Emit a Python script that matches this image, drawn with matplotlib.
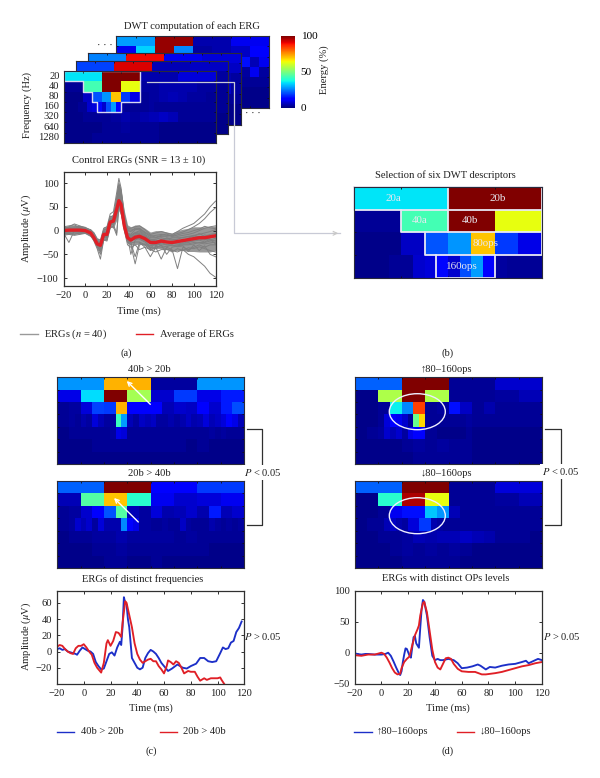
import numpy as np
import matplotlib
matplotlib.use('Agg')
import matplotlib.pyplot as plt
from matplotlib.cm import ScalarMappable
from matplotlib.colors import Normalize
from matplotlib.patches import Ellipse

plt.rcParams['font.family'] = ['Liberation Serif', 'DejaVu Serif']
plt.rcParams['mathtext.fontset'] = 'stix'
plt.rcParams['font.size'] = 7.6

W, H = 600, 778
FS = 7.6
DARK = '#303030'

# ------------------------------------------------------------
# DWT energy maps, one list per frequency row (20 Hz first)
# ------------------------------------------------------------
freq_labels = ['20', '40', '80', '160', '320', '640', '1280']

main_rows = [
    [35, 100, 4, 8],
    [2, 43, 100, 63, 3, 4, 4, 3],
    [1, 1, 6, 21, 27, 70, 18, 9, 2, 3, 4, 5, 4, 3, 3, 2],
    [1, 1, 1, 2, 2, 7, 8, 13, 7, 20, 28, 12, 3, 2, 2, 2, 2, 2, 3, 2, 2, 2, 2, 2, 2, 2, 2, 2, 2, 2, 2, 2],
    [1, 1, 2, 2, 2, 3, 4, 3, 4, 5, 6, 5, 2, 2, 2, 2],
    [1, 1, 1, 1, 2, 2, 3, 2, 2, 2, 1, 1, 1, 1, 1, 1],
    [1, 1, 1, 2, 2, 2, 2, 2, 2, 2, 1, 1, 1, 1, 1, 1],
]
back1_rows = [
    [28, 98, 4, 10],
    [10, 33, 98, 26, 3, 4, 6, 11],
    [1, 2, 4, 7, 8, 10, 6, 3, 3, 4, 4, 3, 6, 14, 5, 10],
    [1, 2, 2, 4, 6, 7, 4, 3, 2, 2, 2, 2, 2, 3, 10, 3],
    [1, 1, 2, 2, 3, 3, 2, 2, 2, 2, 2, 2, 2, 2, 2, 2],
    [1, 1, 1, 1, 2, 2, 1, 1, 1, 1, 1, 1, 1, 1, 1, 1],
    [1, 1, 1, 1, 1, 1, 1, 1, 1, 1, 1, 1, 1, 1, 1, 1],
]
back2_rows = [
    [25, 90, 10, 8],
    [2, 20, 60, 12, 3, 3, 7, 6],
    [1, 2, 4, 7, 6, 6, 3, 2, 3, 3, 2, 3, 5, 3, 4, 3],
    [1, 2, 2, 3, 3, 3, 2, 2, 2, 3, 3, 2, 3, 2, 7, 3],
    [1, 1, 2, 2, 2, 2, 2, 2, 2, 2, 2, 2, 2, 2, 2, 2],
    [1, 1, 1, 1, 1, 1, 1, 1, 1, 1, 1, 1, 1, 1, 1, 1],
    [1, 1, 1, 1, 1, 1, 1, 1, 1, 1, 1, 1, 1, 1, 1, 1],
]
back3_rows = [
    [19, 92, 5, 6],
    [2, 25, 50, 10, 3, 3, 5, 3],
    [1, 2, 4, 6, 4, 5, 2, 2, 2, 3, 3, 4, 3, 2, 3, 2],
    [1, 2, 2, 3, 3, 3, 2, 2, 2, 2, 2, 2, 2, 2, 2, 2],
    [1, 1, 2, 2, 2, 2, 2, 2, 2, 2, 2, 2, 2, 2, 2, 2],
    [1, 1, 1, 1, 1, 1, 1, 1, 1, 1, 1, 1, 1, 1, 1, 1],
    [1, 1, 1, 1, 1, 1, 1, 1, 1, 1, 1, 1, 1, 1, 1, 1],
]

c_top_rows = [
    [27, 72, 3, 27],
    [9, 34, 100, 55, 7, 18, 9, 15],
    [2, 3, 8, 19, 18, 72, 11, 11, 12, 5, 7, 6, 12, 7, 15, 20],
    [2, 2, 3, 2, 4, 3, 8, 5, 3, 3, 42, 28, 5, 3, 6, 5, 6, 3, 3, 4, 3, 4, 6, 4, 5, 8, 5, 6, 8, 11, 9, 5],
    [1, 1, 2, 2, 2, 2, 2, 2, 2, 3, 9, 8, 2, 2, 2, 2, 2, 2, 2, 2, 2, 2, 2, 2, 2, 2, 3, 2, 3, 2, 2, 2],
    [1, 1, 1, 2, 2, 2, 2, 2, 2, 2, 2, 1, 2, 1, 1, 1],
    [1, 1, 1, 1, 1, 1, 1, 1, 1, 1, 1, 1, 1, 1, 1, 1],
]
c_bottom_rows = [
    [22, 100, 11, 18],
    [5, 45, 70, 40, 10, 7, 8, 10],
    [2, 3, 7, 12, 21, 45, 5, 3, 8, 4, 5, 7, 4, 15, 5, 7],
    [2, 2, 3, 7, 5, 7, 3, 8, 4, 4, 4, 26, 12, 9, 3, 3, 2, 2, 3, 2, 2, 6, 3, 2, 2, 2, 4, 3, 2, 3, 2, 3],
    [1, 2, 2, 3, 3, 4, 3, 3, 3, 3, 2, 3, 2, 2, 2, 2],
    [1, 1, 1, 2, 2, 3, 2, 2, 2, 2, 2, 2, 2, 1, 1, 1],
    [1, 1, 1, 1, 2, 2, 1, 1, 2, 1, 1, 1, 1, 1, 1, 1],
]
d_top_rows = [
    [22, 100, 2, 7],
    [1, 56, 100, 56, 2, 2, 3, 5],
    [1, 1, 2, 36, 26, 84, 2, 3, 14, 6, 2, 4, 2, 2, 2, 2],
    [1, 1, 1, 1, 2, 8, 12, 10, 7, 2, 48, 68, 2, 2, 2, 2, 2, 2, 2, 3, 2, 2, 2, 2, 2, 2, 2, 2, 2, 2, 2, 2],
    [1, 1, 2, 2, 3, 7, 5, 7, 3, 9, 11, 11, 2, 2, 1, 1, 1, 1, 1, 2, 1, 1, 1, 1, 1, 1, 1, 1, 1, 1, 1, 1],
    [1, 1, 1, 1, 2, 3, 2, 3, 2, 2, 1, 1, 1, 1, 1, 1],
    [1, 1, 1, 1, 1, 2, 2, 2, 2, 2, 1, 1, 1, 1, 1, 1],
]
d_bottom_rows = [
    [22, 100, 2, 8],
    [1, 40, 96, 63, 2, 2, 3, 5],
    [1, 1, 2, 10, 14, 14, 32, 27, 5, 2, 2, 2, 2, 2, 2, 2],
    [1, 1, 2, 2, 2, 5, 6, 4, 3, 8, 8, 18, 18, 4, 3, 2, 2, 2, 2, 2, 2, 2, 2, 2, 2, 2, 2, 2, 2, 2, 2, 2],
    [1, 1, 2, 2, 3, 5, 4, 5, 5, 6, 5, 4, 2, 2, 2, 1],
    [1, 1, 1, 2, 3, 2, 3, 2, 3, 2, 1, 1, 1, 1, 1, 1],
    [1, 1, 1, 1, 2, 2, 2, 2, 2, 1, 1, 1, 1, 1, 1, 1],
]

# ------------------------------------------------------------
# ERG traces, microvolts
# ------------------------------------------------------------
t_erg = [-20, -15, -10, -5, 0, 5, 8, 11, 14, 17, 20, 23, 26, 29, 31, 33, 36, 39, 42, 46,
         50, 55, 60, 65, 70, 75, 80, 85, 90, 95, 100, 105, 110, 115, 120]
erg_mean = [0, 1, 1, 1, 0, -5, -15, -28, -31, -8, -8, 18, 20, 45, 63, 55, 10, -15, -20, -14,
            -12, -17, -25, -25, -22, -24, -25, -23, -21, -19, -17, -15, -15, -13, -11]
# dense core of the 40 ERGs
erg_upper = [8, 10, 12, 10, 6, 3, -3, -15, -18, 8, 10, 30, 35, 85, 100, 85, 42, 12, 8, 12,
             12, 5, -3, 0, 0, -3, -5, 0, 3, 5, 8, 8, 8, 8, 10]
erg_lower = [-8, -8, -8, -6, -5, -12, -22, -36, -45, -20, -20, 8, 5, 22, 42, 30, 0, -25, -30, -30,
             -28, -32, -40, -38, -38, -40, -42, -42, -42, -44, -44, -45, -45, -45, -42]
erg_traces = [
    [8, 10, 12, 6, 5, 2, -5, -18, -20, 5, 8, 35, 40, 80, 110, 90, 35, 5, 5, 8, 10, 2, -8, -5, -2, -5, -8, -2, 5, 10, 15, 25, 35, 50, 62],
    [5, 8, 14, 10, 6, 0, -8, -20, -25, 0, 5, 28, 32, 70, 100, 85, 30, 0, -2, 5, 5, -5, -12, -10, -8, -10, -10, -6, -3, 2, 8, 15, 25, 38, 48],
    [3, 6, 5, 8, 4, -2, -10, -22, -28, -2, 0, 25, 28, 60, 95, 75, 22, -5, -8, 2, 3, -8, -15, -15, -12, -12, -10, -12, -10, -8, -5, 0, 5, 8, 10],
    [-5, -25, 0, 3, 2, -3, -12, -25, -35, -5, -2, 20, 25, 55, 85, 70, 18, -8, -12, -5, 0, -10, -20, -18, -15, -18, -15, -15, -15, -12, -10, -8, -5, -2, 2],
    [-8, -3, -2, -4, -3, -8, -18, -32, -45, -12, -15, 12, 15, 40, 75, 60, 12, -12, -50, -20, -15, -20, -28, -30, -25, -30, -28, -25, -22, -25, -20, -18, -20, -15, -12],
    [-6, -5, -8, -5, -5, -10, -22, -38, -60, -20, -22, 5, 10, 30, 60, 45, 2, -25, -30, -70, -30, -28, -35, -38, -30, -50, -35, -32, -30, -30, -28, -25, -25, -22, -20],
    [-10, -8, -10, -8, -6, -12, -20, -35, -50, -18, -18, 8, 8, -10, 55, 40, 0, -30, -35, -30, -40, -35, -55, -35, -60, -35, -40, -80, -35, -40, -35, -30, -35, -30, -30],
    [0, 2, 2, -1, -2, -6, -15, -28, -40, -15, -10, 15, 12, -5, 50, 38, 5, -20, -25, -55, -25, -35, -40, -45, -40, -40, -42, -45, -40, -50, -55, -65, -75, -90, -98],
    [4, 3, 6, 4, 3, -1, -9, -24, -30, -4, -3, 22, 24, 52, 78, 66, 16, -6, -10, -4, -3, -12, -18, -22, -20, -17, -20, -18, -14, -13, -12, -6, -12, -8, -6],
    [-3, -2, -3, -2, -1, -7, -17, -30, -34, -10, -9, 16, 18, 42, 68, 58, 8, -18, -22, -16, -18, -24, -32, -28, -28, -30, -32, -30, -28, -28, -25, -26, -28, -26, -24],
    [6, 7, 8, 9, 7, 1, -7, -22, -26, 2, 3, 30, 30, 65, 92, 80, 26, 2, 1, 3, 4, -3, -10, -14, -10, -7, -13, -9, -6, -4, 0, 3, 9, 6, 4],
    [-2, -4, 1, 0, 1, -4, -13, -27, -37, -7, -6, 18, 22, 48, 72, 62, 14, -10, -15, -9, -8, -15, -23, -26, -18, -25, -22, -25, -18, -22, -14, -12, -18, -20, -16],
    [-7, -6, -5, -7, -4, -9, -19, -33, -42, -14, -13, 10, 14, 36, 58, 50, 6, -22, -26, -24, -24, -30, -42, -33, -35, -38, -45, -38, -42, -36, -38, -34, -38, -42, -45],
    [2, 4, 3, 5, 2, -3, -11, -26, -33, -6, -5, 20, 26, 50, 82, 68, 20, -7, -11, -6, -6, -13, -20, -20, -24, -15, -18, -20, -24, -16, -10, -14, -9, -12, -10],
    [-4, -1, -1, -3, -2, -6, -16, -29, -36, -11, -11, 14, 16, 38, 66, 52, 9, -16, -20, -18, -16, -22, -38, -24, -32, -34, -30, -34, -32, -44, -30, -42, -32, -50, -55],
    [1, 0, 4, 2, 0, -4, -14, -28, -44, -9, -7, 17, 20, 44, 88, 72, 15, -11, -14, -10, -9, -18, -24, -32, -26, -22, -27, -28, -26, -24, -22, -20, -24, -18, -28],
]

t_c_blue = [-20, -18, -16, -14, -12, -10, -8, -6, -5, -3, -1, 1, 3, 5, 7, 9, 11, 13, 15, 17, 19, 21, 23, 25, 27, 28, 29, 30, 31, 32, 33, 34, 36, 38, 40, 42, 44, 46, 48, 50, 52, 54, 56, 58, 60, 63, 66, 70, 74, 77, 80, 84, 87, 90, 93, 96, 99, 102, 104, 106, 108, 110, 112, 114, 116, 118]
c_blue = [3, 4, 2, 3, 0, -1, -2, -3, -4, 1, 5, 3, 1, 0, -3, -13, -18, -22, -21, -12, -3, -1, -5, 5, 12, 8, 30, 67, 60, 58, 40, 30, -8, -14, -20, -22, -20, -8, -2, 2, 0, -3, -8, -14, -18, -24, -21, -16, -20, -21, -18, -15, -8, -8, -12, -13, -12, -2, 5, 3, 4, 11, 13, 24, 29, 37]
t_c_red = [-20, -18, -16, -14, -12, -10, -8, -6, -4, -2, 0, 2, 4, 6, 8, 10, 12, 13, 15, 17, 18, 20, 22, 24, 26, 28, 29, 31, 32, 34, 36, 38, 40, 42, 44, 46, 48, 50, 52, 54, 56, 58, 60, 62, 63, 65, 67, 69, 71, 73, 75, 78, 80, 83, 85, 87, 90, 92, 95, 98, 100, 102, 103, 105]
c_red = [6, 8, 7, 3, 0, -2, -3, 4, 7, 7, 9, 5, 0, -4, -14, -20, -24, -26, -14, 10, 14, 7, 13, 24, 23, 18, 35, 62, 60, 45, 30, 10, -3, -10, -14, -12, -10, -9, -12, -12, -18, -22, -27, -18, -11, -13, -16, -12, -14, -20, -27, -24, -25, -25, -31, -36, -33, -35, -33, -33, -33, -32, -35, -40]
t_d_blue = [-20, -18, -15, -12, -10, -5, 0, 3, 5, 7, 9, 11, 13, 14, 15, 16, 17, 18, 19, 21, 22, 24, 25, 26, 28, 29, 30, 31, 32, 34, 36, 38, 40, 42, 44, 46, 50, 54, 57, 60, 64, 68, 72, 74, 78, 81, 85, 90, 95, 100, 105, 108, 110, 113, 117, 120]
d_blue = [-1, -2, -3, -2, -2, -3, -3, -2, 0, -5, -14, -24, -33, -36, -30, -15, -3, 7, 6, -5, -8, 25, 27, 15, 8, 40, 70, 85, 82, 60, 25, -5, -12, -10, -12, -12, -10, -12, -17, -25, -24, -22, -19, -21, -27, -23, -24, -21, -19, -18, -15, -13, -17, -14, -10, -12]
t_d_red = [-20, -15, -10, -5, 0, 2, 4, 6, 8, 10, 12, 14, 15, 17, 19, 21, 23, 25, 27, 28, 29, 31, 32, 34, 36, 38, 40, 42, 44, 46, 48, 50, 52, 54, 57, 60, 65, 70, 75, 78, 85, 90, 95, 100, 105, 110, 115, 120]
d_red = [-4, -5, -3, -3, 0, -2, -8, -16, -25, -32, -35, -34, -25, -15, -10, -6, 12, 28, 38, 44, 60, 80, 82, 65, 35, 5, -15, -24, -27, -18, -9, -8, -10, -18, -26, -30, -31, -31, -35, -35, -33, -31, -28, -25, -22, -20, -17, -15]

time_ticks = [-20, 0, 20, 40, 60, 80, 100, 120]


def px_axes(fig, x0, y0, x1, y1):
    """Axes from pixel box, y measured from the top of the image."""
    return fig.add_axes([x0 / W, 1 - y1 / H, (x1 - x0) / W, (y1 - y0) / H])


def draw_dwt(ax, rows):
    for i, row in enumerate(rows):
        edges = np.linspace(0, 1, len(row) + 1)
        ax.pcolormesh(edges, [i, i + 1], [row], cmap='jet', vmin=0, vmax=100, linewidth=0, rasterized=True)
    ax.set_xlim(0, 1)
    ax.set_ylim(len(rows), 0)
    ax.set_xticks(np.arange(1, 8) / 8)
    ax.set_yticks(np.arange(1, len(rows)))
    ax.tick_params(which='both', direction='in', length=1.6, width=0.6, top=True, right=True,
                   labelbottom=False, labelleft=False, color='#101010')
    for s in ax.spines.values():
        s.set_color('#2a2a3a')
        s.set_linewidth(0.8)


def style_line_axes(ax, ylim, yticks):
    ax.set_xlim(-20, 120)
    ax.set_ylim(*ylim)
    ax.set_xticks(time_ticks)
    ax.set_yticks(yticks)
    ax.tick_params(direction='in', length=2, width=0.7, top=True, right=True, labelsize=FS, pad=3.5, color=DARK,
                   labelcolor='#202020')
    for s in ax.spines.values():
        s.set_color(DARK)
        s.set_linewidth(0.9)


fig = plt.figure(figsize=(W / 100, H / 100), dpi=100)

# (a) stacked DWT maps, back to front
ax = px_axes(fig, 116.5, 36, 269, 108)
draw_dwt(ax, back1_rows)
ax = px_axes(fig, 88, 52.5, 240.5, 124.5)
draw_dwt(ax, back2_rows)
ax = px_axes(fig, 75.5, 61, 228, 134)
draw_dwt(ax, back3_rows)
ax_main = px_axes(fig, 63.5, 71, 215.5, 143)
draw_dwt(ax_main, main_rows)

ax_main.plot([0, .5, .5, .375, .375, .21875, .21875, .1875, .1875, .125, .125, 0, 0],
             [0, 0, 3, 3, 4, 4, 3, 3, 2, 2, 1, 1, 0], color='#d8d8f0', lw=1)

cax = px_axes(fig, 281, 36, 295, 107.5)
cb = fig.colorbar(ScalarMappable(Normalize(0, 100), 'jet'), cax=cax, ticks=[0, 50, 100])
cb.outline.set_visible(False)
cax.tick_params(length=0, pad=4, labelsize=FS + 0.5)

# (a) control ERGs
ax_a = px_axes(fig, 63.5, 171.7, 215.5, 285.7)
ax_a.fill_between(t_erg, erg_lower, erg_upper, color='#7f7f7f', alpha=0.8, lw=0)
for tr in erg_traces:
    ax_a.plot(t_erg, tr, color='#808080', lw=0.7)
ax_a.plot(t_erg, erg_mean, color='#e01f26', lw=2.4)
style_line_axes(ax_a, (-116, 124), [-100, -50, 0, 50, 100])

# (b) selected descriptors, left half of the top four rows
ax_b = px_axes(fig, 354.3, 186.7, 541.7, 278)
draw_dwt(ax_b, [r[:len(r) // 2] for r in main_rows[:4]])
ax_b.set_xticks([.25, .5, .75])
ax_b.set_yticks([1, 2, 3])
for xs, ys in [([0, 1, 1, 0, 0], [0, 0, 1, 1, 0]), ([.5, .5], [0, 2]), ([.25, .25, 1], [1, 2, 2]),
               ([.375, .375, 1, 1], [2, 3, 3, 1]), ([.4375, .4375, .75, .75], [3, 4, 4, 3])]:
    ax_b.plot(xs, ys, color='#e8e8f4', lw=1.3, clip_on=False)
for lab, x, y in [('20a', .21, .5), ('20b', .765, .5), ('40a', .35, 1.5), ('40b', .62, 1.5),
                  ('80ops', .7, 2.5), ('160ops', .575, 3.5)]:
    ax_b.text(x, y, lab, color='#e8e8f0', ha='center', va='center', fontsize=FS + 0.3)

# (c), (d) map pairs
ax_c1 = px_axes(fig, 57.3, 377.3, 244, 464)
draw_dwt(ax_c1, c_top_rows)
ax_c2 = px_axes(fig, 57.3, 480.7, 244, 568.3)
draw_dwt(ax_c2, c_bottom_rows)
ax_d1 = px_axes(fig, 355, 377.3, 542, 464)
draw_dwt(ax_d1, d_top_rows)
ax_d2 = px_axes(fig, 355, 480.7, 542, 568.3)
draw_dwt(ax_d2, d_bottom_rows)

# (c), (d) averaged ERGs
ax_c = px_axes(fig, 57, 590.7, 244.3, 683.7)
ax_c.plot(t_c_blue, c_blue, color='#1c2fc8', lw=1.35)
ax_c.plot(t_c_red, c_red, color='#e01f26', lw=1.35)
style_line_axes(ax_c, (-39.7, 75), [-20, 0, 20, 40, 60])

ax_d = px_axes(fig, 354.7, 590.7, 542, 683.7)
ax_d.plot(t_d_blue, d_blue, color='#1c2fc8', lw=1.35)
ax_d.plot(t_d_red, d_red, color='#e01f26', lw=1.35)
style_line_axes(ax_d, (-50, 100), [-50, 0, 50, 100])

# ------------------------------------------------------------
# Overlay in image pixels: labels, connectors, annotations
# ------------------------------------------------------------
ov = fig.add_axes([0, 0, 1, 1], zorder=10)
ov.set_xlim(0, W)
ov.set_ylim(H, 0)
ov.axis('off')


def label(x, y, s, ha='center', **kw):
    ov.text(x, y, s, ha=ha, va='center', fontsize=kw.pop('fontsize', FS), color='#202020', **kw)


label(192.3, 26, 'DWT computation of each ERG')
label(139, 160, 'Control ERGs (SNR = 13 ± 10)')
label(445, 175.3, 'Selection of six DWT descriptors')
label(149, 369, '40b > 20b')
label(149, 473.3, '20b > 40b')
label(446, 369, '↑80–160ops', family=['Liberation Serif', 'DejaVu Sans'])
label(446, 473.3, '↓80–160ops', family=['Liberation Serif', 'DejaVu Sans'])
label(143, 578.7, 'ERGs of distinct frequencies')
label(446, 578.7, 'ERGs with distinct OPs levels')

for lab, y in zip(freq_labels, [76, 86, 96.3, 106.7, 116.7, 127, 137.3]):
    label(59.5, y, lab, ha='right')
label(27, 105, 'Frequency (Hz)', rotation=90)
label(324, 70, 'Energy (%)', rotation=90)
label(105, 45, '· · ·')
label(253, 113, '· · ·')

label(139, 311.3, 'Time (ms)')
label(151, 707.7, 'Time (ms)')
label(448, 707.7, 'Time (ms)')
label(26.5, 228, r'Amplitude ($\mu$V)', rotation=90)
label(26.5, 636.5, r'Amplitude ($\mu$V)', rotation=90)

label(126, 352.7, '(a)')
label(448, 352.7, '(b)')
label(151, 750.7, '(c)')
label(447.7, 750.7, '(d)')

# hand-placed legends
for x0, x1, y, col in [(20, 37.7, 334, '#999999'), (136.3, 153.3, 334, '#e01f26'),
                       (57, 74, 732, '#1c2fc8'), (159.7, 176.7, 732, '#e01f26'),
                       (354, 371.7, 732, '#1c2fc8'), (457, 474, 732, '#e01f26')]:
    ov.plot([x0, x1], [y, y], color=col, lw=1)
label(44.3, 334, r'ERGs ($n$ = 40)', ha='left')
label(160, 334, 'Average of ERGs', ha='left')
label(80.7, 732, '40b > 20b', ha='left')
label(183.3, 732, '20b > 40b', ha='left')
label(376.7, 732, '↑80–160ops', ha='left', family=['Liberation Serif', 'DejaVu Sans'])
label(480, 732, '↓80–160ops', ha='left', family=['Liberation Serif', 'DejaVu Sans'])

# connector from the main map to panel (b)
ov.plot([146.7, 234.3, 234.3, 340], [81.7, 81.7, 233.3, 233.3], color='#c8cad6', lw=0.9)
ov.annotate('', xy=(341, 233.3), xytext=(330, 233.3),
            arrowprops=dict(arrowstyle='->', color='#c8c8c8', lw=0.8, mutation_scale=7))

# white arrows and ellipses on the maps
ov.annotate('', xy=(126.7, 381), xytext=(150.3, 404.3),
            arrowprops=dict(arrowstyle='->', color='white', lw=1, mutation_scale=7, shrinkA=0, shrinkB=0))
ov.annotate('', xy=(114, 498), xytext=(138.3, 522),
            arrowprops=dict(arrowstyle='->', color='white', lw=1, mutation_scale=7, shrinkA=0, shrinkB=0))
for yc in [411.7, 515.7]:
    ov.add_patch(Ellipse((417.3, yc), 56, 36, fill=False, ec='#eeeeff', lw=1))

# significance brackets
for x0, x1 in [(247.3, 262.3), (544.7, 560.7)]:
    ov.plot([x0, x1, x1, x0], [429.3, 429.3, 524.7, 524.7], color=DARK, lw=0.9)
label(262.5, 472.7, r'$P$ < 0.05', bbox=dict(fc='white', ec='none', pad=1.5))
label(560.5, 471.7, r'$P$ < 0.05', bbox=dict(fc='white', ec='none', pad=1.5))
label(263, 636, r'$P$ > 0.05')
label(561.5, 636, r'$P$ > 0.05')

fig.savefig('out.png', dpi=100)
